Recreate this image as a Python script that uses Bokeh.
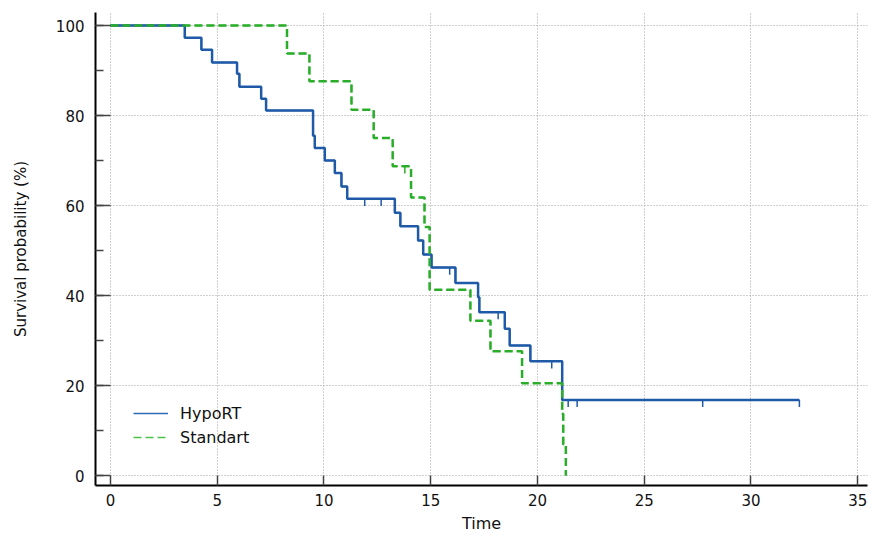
import numpy as np
from bokeh.plotting import figure
from bokeh.models import Range1d, SingleIntervalTicker, Legend, LegendItem
from bokeh.embed import file_html
from bokeh.resources import INLINE

# ---- data (Kaplan-Meier curves) ----
hypo_time = [0, 3.48, 4.26, 4.76, 5.93, 6.04, 7.06, 7.29, 9.49, 9.57, 10.04, 10.51,
             10.82, 11.09, 13.32, 13.58, 14.41, 14.65, 15.04, 16.16, 17.22, 17.28,
             18.47, 18.70, 19.67, 21.16, 32.27]
hypo_surv = [100, 97.3, 94.6, 91.8, 89.3, 86.4, 83.7, 81.1, 75.5, 72.8, 70.0, 67.2,
             64.2, 61.5, 58.4, 55.4, 52.2, 49.1, 46.2, 42.8, 39.6, 36.3,
             32.6, 28.9, 25.4, 16.8, 16.8]
hypo_censor = [11.91, 12.68, 15.89, 18.16, 20.67, 21.44, 21.86, 27.74, 32.27]

std_time = [0, 8.27, 9.32, 11.29, 12.33, 13.22, 14.08, 14.71, 14.95, 16.86, 17.80,
            19.28, 21.16, 21.21, 21.33]
std_surv = [100, 93.8, 87.6, 81.3, 75.0, 68.7, 61.8, 55.2, 41.3, 34.4, 27.6,
            20.5, 13.7, 6.9, 0]
std_censor = [13.79]

series_names = ["HypoRT", "Standart"]
x_ticks_interval = 5
y_ticks_interval = 20

BLUE = "#1f5aa8"
GREEN = "#2aae2a"
FONT = "DejaVu Sans"
TXT = "#111111"


def level_at(times, surv, ts):
    times = np.asarray(times)
    surv = np.asarray(surv)
    idx = np.searchsorted(times, ts, side="right") - 1
    return surv[idx]


p = figure(width=869, height=535, output_backend="svg", toolbar_location=None,
           x_range=Range1d(-0.70, 35.46), y_range=Range1d(-2.22, 102.89),
           min_border_left=95, min_border_right=2, min_border_top=12,
           min_border_bottom=50)
p.outline_line_color = None
p.background_fill_color = "white"

# axes
p.xaxis.ticker = SingleIntervalTicker(interval=x_ticks_interval, num_minor_ticks=0)
p.yaxis.ticker = SingleIntervalTicker(interval=y_ticks_interval, num_minor_ticks=2)
for ax in (p.xaxis[0], p.yaxis[0]):
    ax.axis_line_color = "black"
    ax.axis_line_width = 2
    ax.major_tick_line_color = "#444444"
    ax.major_tick_line_width = 1.5
    ax.minor_tick_line_color = "#444444"
    ax.minor_tick_line_width = 1.5
    ax.major_tick_out = 0
    ax.minor_tick_out = 0
    ax.major_label_text_font = FONT
    ax.major_label_text_font_size = "15px"
    ax.major_label_text_color = TXT
    ax.axis_label_text_font = FONT
    ax.axis_label_text_font_style = "normal"
    ax.axis_label_text_color = TXT

p.xaxis.major_tick_in = 10
p.yaxis.major_tick_in = 15
p.yaxis.minor_tick_in = 8
p.xaxis.major_label_standoff = 8
p.yaxis.major_label_standoff = 11
p.xaxis.axis_label = "Time"
p.xaxis.axis_label_text_font_size = "16px"
p.xaxis.axis_label_standoff = 5
p.yaxis.axis_label = "Survival probability (%)"
p.yaxis.axis_label_text_font_size = "15px"
p.yaxis.axis_label_standoff = 23

# grid
for g in (p.xgrid[0], p.ygrid[0]):
    g.grid_line_color = "#a0a0a0"
    g.grid_line_dash = "1 2"
    g.grid_line_width = 1

# thin copies (hidden under the thick curves) used as legend samples
leg_h = p.step(hypo_time, hypo_surv, mode="after", line_color="#2f6db5",
               line_width=1.5)
leg_s = p.step(std_time, std_surv, mode="after", line_color="#4cc04c",
               line_width=1.5, line_dash="8 4")

# curves
p.step(hypo_time, hypo_surv, mode="after", line_color=BLUE, line_width=2.5)
hc_y = level_at(hypo_time, hypo_surv, hypo_censor)
p.segment(x0=hypo_censor, y0=hc_y, x1=hypo_censor, y1=hc_y - 1.6,
          line_color=BLUE, line_width=1.5)

p.step(std_time, std_surv, mode="after", line_color=GREEN, line_width=2.5,
       line_dash="8 4")
sc_y = level_at(std_time, std_surv, std_censor)
p.segment(x0=std_censor, y0=sc_y, x1=std_censor, y1=sc_y - 1.6,
          line_color=GREEN, line_width=1.5)

legend = Legend(items=[LegendItem(label=series_names[0], renderers=[leg_h]),
                       LegendItem(label=series_names[1], renderers=[leg_s])],
                location=(38, 36), border_line_color=None,
                background_fill_alpha=0, padding=0, margin=0, spacing=0,
                glyph_width=35, glyph_height=24, label_height=24,
                label_standoff=12, label_text_font=FONT,
                label_text_font_size="16px", label_text_color=TXT)
p.add_layout(legend, "center")

open("out.html", "w").write(file_html(p, INLINE))
